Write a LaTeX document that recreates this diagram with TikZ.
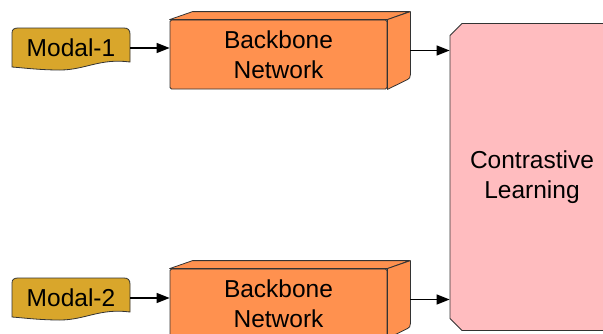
\documentclass[tikz,border=0pt]{standalone}
\usepackage{fontspec}
\setmainfont{Liberation Sans}
\usetikzlibrary{shapes.misc,arrows.meta}
\definecolor{gold}{HTML}{D9A62B}
\definecolor{orng}{HTML}{FF914F}
\definecolor{pnk}{HTML}{FFBCBF}
\definecolor{edge}{HTML}{333333}
\begin{document}
\begin{tikzpicture}[x=1pt,y=-1pt,
  font=\fontsize{24.5}{30}\selectfont,
  arr/.style={-{Triangle[length=13pt,width=10pt]}, line width=1.3pt},
  front/.style={draw=edge, fill=orng, line width=0.8pt, minimum width=217pt,
    minimum height=69pt, align=center, rounded corners=1.5pt, inner sep=0pt},
  side/.style={draw=edge, fill=orng, line width=0.8pt, line join=round},
  modalshape/.style={draw=edge, fill=gold, line width=0.8pt},
  modaltext/.style={minimum width=118pt, minimum height=42pt, inner sep=0pt},
  clbox/.style={chamfered rectangle, chamfered rectangle corners={north west,south west},
    chamfered rectangle xsep=6pt, chamfered rectangle ysep=6pt,
    draw=edge, fill=pnk, line width=0.8pt, minimum width=164pt, minimum height=307pt,
    align=center, inner sep=0pt}]
\useasboundingbox (0,0) rectangle (603,333);

% Contrastive learning
\node[clbox] (cl) at (532,177) {Contrastive\\Learning};

% Modal shapes
\draw[modalshape] (12,33) .. controls (12,29.5) and (14,28) .. (18,28) -- (124,28)
  .. controls (128,28) and (130,30) .. (130,34) -- (130,62)
  .. controls (100,58) and (85,70) .. (60,70) .. controls (40,70) and (25,68) .. (12,67) -- cycle;
\node[modaltext] (m1) at (71,48) {Modal-1};

\draw[modalshape] (12,283) .. controls (12,279.5) and (14,278) .. (18,278) -- (124,278)
  .. controls (128,278) and (130,280) .. (130,284) -- (130,312)
  .. controls (100,308) and (85,320) .. (60,320) .. controls (40,320) and (25,318) .. (12,317) -- cycle;
\node[modaltext] (m2) at (71,298) {Modal-2};

% Backbone 1
\node[front] (b1) at (278.5,54.5) {Backbone\\Network};
\draw[side] (b1.north west) -- ++(23,-8) -- ++(217,0) -- (b1.north east) -- cycle;
\draw[side] (b1.north east) -- ++(23,-8) -- ++(0,63) .. controls ++(0,3) and ++(2,-1) .. ++(-3,5) -- (b1.south east) -- cycle;
\coordinate (b1out) at ([xshift=23pt,yshift=4pt]b1.east);

% Backbone 2
\node[front] (b2) at (278.5,303.5) {Backbone\\Network};
\draw[side] (b2.north west) -- ++(23,-8) -- ++(217,0) -- (b2.north east) -- cycle;
\draw[side] (b2.north east) -- ++(23,-8) -- ++(0,63) .. controls ++(0,3) and ++(2,-1) .. ++(-3,5) -- (b2.south east) -- cycle;
\coordinate (b2out) at ([xshift=23pt,yshift=4pt]b2.east);

% Connectors
\draw[arr] (m1.east) -- (m1.east -| b1.west);
\draw[arr] (m2.east) -- (m2.east -| b2.west);
\draw[arr] (b1out) -- (b1out -| cl.west);
\draw[arr] (b2out) -- (b2out -| cl.west);
\end{tikzpicture}
\end{document}
